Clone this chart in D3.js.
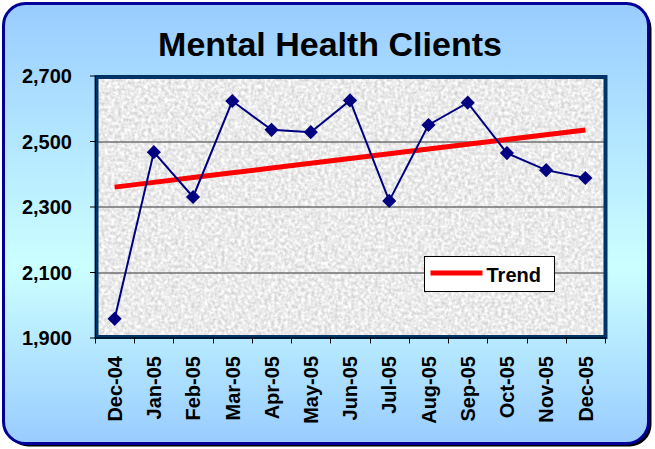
<!DOCTYPE html>
<html>
<head>
<meta charset="utf-8">
<script src="https://cdn.jsdelivr.net/npm/d3@7"></script>
<style>
  body { margin: 0; background: #ffffff; }
  svg { display: block; font-family: Arial, "Liberation Sans", sans-serif; }
  .axis-label { font-size: 20px; font-weight: bold; fill: #000; }
</style>
</head>
<body>
<div id="chart"></div>
<script>
// chart data
const months = ['Dec-04', 'Jan-05', 'Feb-05', 'Mar-05', 'Apr-05', 'May-05', 'Jun-05',
                'Jul-05', 'Aug-05', 'Sep-05', 'Oct-05', 'Nov-05', 'Dec-05']
const clients = [1957, 2466, 2329, 2622, 2534, 2527, 2624, 2317, 2549, 2617, 2463, 2411, 2387]
const yTicks = [1900, 2100, 2300, 2500, 2700]

const W = 655, H = 449
const layout = { left: 95, top: 75.5, width: 510, height: 262 }

const svg = d3.select('#chart').append('svg')
    .attr('width', W)
    .attr('height', H)

const defs = svg.append('defs')

const bg = defs.append('linearGradient')
    .attr('id', 'bg-grad')
    .attr('x1', 0).attr('y1', 0).attr('x2', 0).attr('y2', 1)
bg.append('stop').attr('offset', '0%').attr('stop-color', '#99ccff')
bg.append('stop').attr('offset', '60%').attr('stop-color', '#ccffff')
bg.append('stop').attr('offset', '100%').attr('stop-color', '#99ccff')

// granite-ish texture for the plot area
const noise = defs.append('filter')
    .attr('id', 'granite')
    .attr('x', 0).attr('y', 0).attr('width', 1).attr('height', 1)
    .attr('color-interpolation-filters', 'sRGB')
noise.append('feTurbulence')
    .attr('type', 'fractalNoise')
    .attr('baseFrequency', 0.3)
    .attr('numOctaves', 2)
    .attr('seed', 3)
    .attr('result', 'turb')
noise.append('feColorMatrix')
    .attr('in', 'turb')
    .attr('type', 'matrix')
    .attr('values', '0.32 0 0 0 0.76  0.32 0 0 0 0.76  0.32 0 0 0 0.76  0 0 0 0 1')

// outer frame with shadow
svg.append('rect')
    .attr('x', 6.5).attr('y', 6.5)
    .attr('width', 645).attr('height', 440)
    .attr('rx', 22)
    .attr('fill', '#000')
svg.append('rect')
    .attr('x', 3.5).attr('y', 3.5)
    .attr('width', 645).attr('height', 440)
    .attr('rx', 22)
    .attr('fill', 'url(#bg-grad)')
    .attr('stroke', '#000099')
    .attr('stroke-width', 3)

svg.append('text')
    .attr('x', 330)
    .attr('y', 56)
    .attr('text-anchor', 'middle')
    .style('font-size', '34px')
    .style('font-weight', 'bold')
    .text('Mental Health Clients')

const g = svg.append('g')
    .attr('transform', 'translate(' + layout.left + ',' + layout.top + ')')

const xScale = d3.scaleBand().domain(months).range([0, layout.width])
const yScale = d3.scaleLinear().domain([1900, 2700]).range([layout.height, 0])

g.append('rect')
    .attr('width', layout.width)
    .attr('height', layout.height)
    .attr('fill', '#ebebeb')
    .attr('filter', 'url(#granite)')

g.append('g').selectAll('.hline')
    .data(yTicks.filter(t => t !== 1900 && t !== 2700))
    .enter()
    .append('path')
    .attr('class', 'hline')
    .attr('d', t => `M 0 ${Math.round(yScale(t)) + 0.5} H ${layout.width}`)
    .attr('stroke', '#707070')
    .attr('stroke-width', 1.5)

// plot frame
g.append('rect')
    .attr('x', 1.5).attr('y', 1.5)
    .attr('width', layout.width - 1).attr('height', layout.height - 2)
    .attr('fill', 'none')
    .attr('stroke', '#003366')
    .attr('stroke-width', 4)

// axes
const yAxisEl = g.append('g')
    .call(d3.axisLeft(yScale).tickValues(yTicks).tickFormat(d3.format(',')).tickSizeInner(5).tickSizeOuter(0))
yAxisEl.select('.domain').attr('stroke', '#000')
yAxisEl.selectAll('text')
    .attr('class', 'axis-label')
    .attr('x', -23)
    .attr('dy', '0.36em')
    .style('font-family', 'Arial, "Liberation Sans", sans-serif')

const xAxisEl = g.append('g')
    .attr('transform', 'translate(0,' + layout.height + ')')
    .call(d3.axisBottom(xScale).tickSize(0).tickSizeOuter(0))
xAxisEl.select('.domain').attr('stroke', '#000')
xAxisEl.selectAll('.tick line').remove()
xAxisEl.selectAll('.tick text')
    .attr('class', 'axis-label')
    .attr('transform', 'rotate(-90)')
    .attr('x', -18.5)
    .attr('y', 0)
    .attr('dy', '0.36em')
    .attr('text-anchor', 'end')
    .style('font-family', 'Arial, "Liberation Sans", sans-serif')

// category boundary ticks
const bounds = months.map(m => xScale(m)).concat([layout.width])
xAxisEl.selectAll('.bound')
    .data(bounds)
    .enter()
    .append('path')
    .attr('class', 'bound')
    .attr('d', b => `M ${Math.round(b) + 0.5} 0 V 6`)
    .attr('stroke', '#000')

const cx = m => xScale(m) + xScale.bandwidth() / 2

// linear trend (least squares over the months)
const idx = months.map((m, i) => i)
const mx = d3.mean(idx), my = d3.mean(clients)
const slope = d3.sum(idx, i => (i - mx) * (clients[i] - my)) / d3.sum(idx, i => (i - mx) * (i - mx))
const trend = idx.map(i => my + slope * (i - mx))

g.append('path')
    .datum(months)
    .attr('d', d3.line().x(cx).y((m, i) => yScale(trend[i])))
    .attr('fill', 'none')
    .attr('stroke', '#ff0000')
    .attr('stroke-width', 5)

g.append('path')
    .datum(months)
    .attr('d', d3.line().x(cx).y((m, i) => yScale(clients[i])))
    .attr('fill', 'none')
    .attr('stroke', '#000080')
    .attr('stroke-width', 2)

g.selectAll('.marker')
    .data(months)
    .enter()
    .append('path')
    .attr('class', 'marker')
    .attr('d', d3.symbol().type(d3.symbolSquare).size(100))
    .attr('transform', (m, i) => `translate(${cx(m)},${yScale(clients[i])}) rotate(45)`)
    .attr('fill', '#000080')

// legend
const leg = svg.append('g').attr('transform', 'translate(424.5,256.5)')
leg.append('rect')
    .attr('width', 130).attr('height', 35)
    .attr('fill', '#fff')
    .attr('stroke', '#000')
leg.append('line')
    .attr('x1', 6).attr('x2', 58)
    .attr('y1', 16.5).attr('y2', 16.5)
    .attr('stroke', '#ff0000')
    .attr('stroke-width', 5)
leg.append('text')
    .attr('class', 'axis-label')
    .attr('x', 62)
    .attr('y', 25)
    .text('Trend')
</script>
</body>
</html>
